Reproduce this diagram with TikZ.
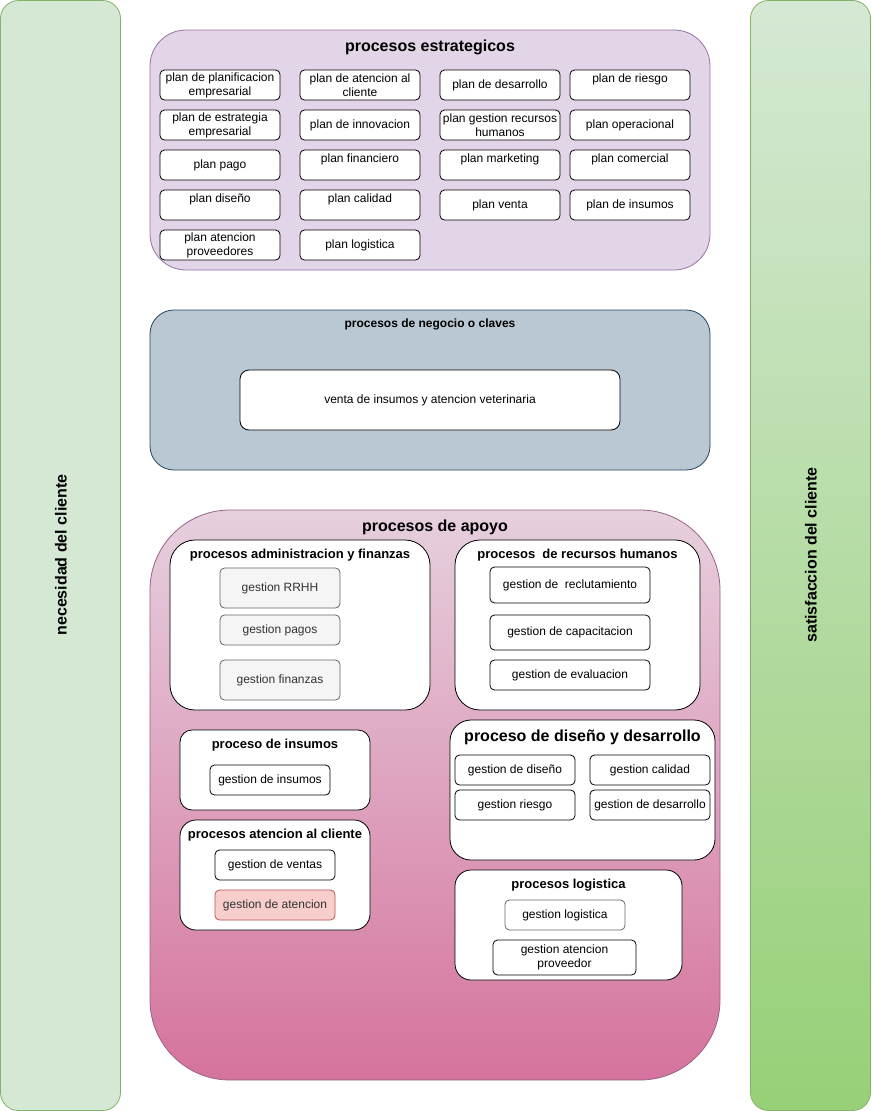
\documentclass[tikz,border=0pt]{standalone}
\usepackage{fontspec}
\setmainfont{Liberation Sans}
\definecolor{verdeFill}{HTML}{D5E8D4}
\definecolor{verdeFin}{HTML}{97D077}
\definecolor{verdeLinea}{HTML}{82B366}
\definecolor{lilaFill}{HTML}{E1D5E7}
\definecolor{lilaLinea}{HTML}{9673A6}
\definecolor{grisAzul}{HTML}{BAC8D3}
\definecolor{grisAzulLinea}{HTML}{23445D}
\definecolor{rosaIni}{HTML}{E6D0DE}
\definecolor{rosaFin}{HTML}{D5739D}
\definecolor{rosaLinea}{HTML}{996185}
\definecolor{grisFill}{HTML}{F5F5F5}
\definecolor{grisLinea}{HTML}{666666}
\definecolor{grisTexto}{HTML}{333333}
\definecolor{rojoFill}{HTML}{F8CECC}
\definecolor{rojoLinea}{HTML}{B85450}

\begin{document}
\begin{tikzpicture}[x=1pt, y=-1pt, line width=0.8pt,
    caja/.style={draw, fill=white, rounded corners=4.5pt, align=center, inner sep=2pt,
      font=\fontsize{12}{14}\selectfont},
    plan/.style={caja, minimum width=120pt, minimum height=30pt},
    arriba/.style={text depth=14pt},
    gris/.style={caja, draw=grisLinea, fill=grisFill, text=grisTexto, minimum width=120pt},
    grupo/.style={draw, fill=white, rounded corners=#1},
    titulo/.style={font=\bfseries\fontsize{13}{15}\selectfont},
    tituloGrande/.style={font=\bfseries\fontsize{16}{18}\selectfont}]
  \useasboundingbox (0,0) rectangle (871,1111);

  % columnas del cliente
  \draw [draw=verdeLinea, fill=verdeFill, rounded corners=18pt] (0.5,0.5) rectangle (120.5,1110.5);
  \draw [draw=verdeLinea, top color=verdeFill, bottom color=verdeFin, rounded corners=18pt] (750.5,0.5) rectangle (870.5,1110.5);
  \node [tituloGrande, rotate=90] (lNecesidad) at (61,555) {necesidad del cliente};
  \node [tituloGrande, rotate=90] (lSatisfaccion) at (811,555) {satisfaccion del cliente};

  % procesos estrategicos
  \draw [draw=lilaLinea, fill=lilaFill, rounded corners=36pt] (150,30) rectangle (710,270);
  \node [tituloGrande] (tEstrategicos) at (430,47.5) {procesos estrategicos};

  \node [plan] (pPlanif) at (220,85) {plan de planificacion\\empresarial};
  \node [plan] (pAtencion) at (360,85) {plan de atencion al\\cliente};
  \node [plan] (pDesarrollo) at (500,85) {plan de desarrollo};
  \node [plan, arriba] (pRiesgo) at (630,85) {plan de riesgo};

  \node [plan] (pEstrategia) at (220,125) {plan de estrategia\\empresarial};
  \node [plan] (pInnovacion) at (360,125) {plan de innovacion};
  \node [plan] (pRRHH) at (500,125) {plan gestion recursos\\humanos};
  \node [plan] (pOperacional) at (630,125) {plan operacional};

  \node [plan] (pPago) at (220,165) {plan pago};
  \node [plan, arriba] (pFinanciero) at (360,165) {plan financiero};
  \node [plan, arriba] (pMarketing) at (500,165) {plan marketing};
  \node [plan, arriba] (pComercial) at (630,165) {plan comercial};

  \node [plan, arriba] (pDiseno) at (220,205) {plan diseño};
  \node [plan, arriba] (pCalidad) at (360,205) {plan calidad};
  \node [plan] (pVenta) at (500,205) {plan venta};
  \node [plan] (pInsumos) at (630,205) {plan de insumos};

  \node [plan] (pProveedores) at (220,245) {plan atencion\\proveedores};
  \node [plan] (pLogistica) at (360,245) {plan logistica};

  % procesos de negocio
  \draw [draw=grisAzulLinea, fill=grisAzul, rounded corners=24pt] (150,310) rectangle (710,470);
  \node [font=\bfseries\fontsize{12}{14}\selectfont] (tNegocio) at (430,324) {procesos de negocio o claves};
  \node [caja, rounded corners=9pt, minimum width=380pt, minimum height=60pt] (nVenta) at (430,400) {venta de insumos y atencion veterinaria};

  % procesos de apoyo
  \draw [draw=rosaLinea, top color=rosaIni, bottom color=rosaFin, rounded corners=80pt] (150,510) rectangle (720,1080);
  \node [tituloGrande] (tApoyo) at (435,527.5) {procesos de apoyo};

  \draw [grupo=25pt] (170,540) rectangle (430,710);
  \node [titulo] (tAdmin) at (300,555) {procesos administracion y finanzas};
  \node [gris, minimum height=40pt] (gRRHH) at (280,588) {gestion RRHH};
  \node [gris, minimum height=30pt] (gPagos) at (280,630) {gestion pagos};
  \node [gris, minimum height=40pt] (gFinanzas) at (280,680) {gestion finanzas};

  \draw [grupo=25pt] (455,540) rectangle (700,710);
  \node [titulo] (tHumanos) at (577.5,555) {procesos\ \ de recursos humanos};
  \node [caja, minimum width=160pt, minimum height=36pt] (gReclut) at (570,585) {gestion de\ \ reclutamiento};
  \node [caja, minimum width=160pt, minimum height=35pt] (gCapac) at (570,632.5) {gestion de capacitacion};
  \node [caja, minimum width=160pt, minimum height=30pt] (gEval) at (570,675) {gestion de evaluacion};

  \draw [grupo=12pt] (180,730) rectangle (370,810);
  \node [titulo] (tInsumos) at (275,745) {proceso de insumos};
  \node [plan] (gInsumos) at (270,780) {gestion de insumos};

  \draw [grupo=16pt] (180,820) rectangle (370,930);
  \node [titulo] (tCliente) at (275,835) {procesos atencion al cliente};
  \node [plan] (gVentas) at (275,865) {gestion de ventas};
  \node [plan, draw=rojoLinea, fill=rojoFill, text=grisTexto] (gAtencion) at (275,905) {gestion de atencion};

  \draw [grupo=21pt] (450,720) rectangle (715,860);
  \node [tituloGrande] (tDiseno) at (582.5,737.5) {proceso de diseño y desarrollo};
  \node [plan] (gDiseno) at (515,770) {gestion de diseño};
  \node [plan] (gCalidad) at (650,770) {gestion calidad};
  \node [plan] (gRiesgo) at (515,805) {gestion riesgo};
  \node [plan] (gDesarrollo) at (650,805) {gestion de desarrollo};

  \draw [grupo=16pt] (455,870) rectangle (682,980);
  \node [titulo] (tLogistica) at (568.5,885) {procesos logistica};
  \node [plan, draw=grisLinea] (gLogistica) at (565,915) {gestion logistica};
  \node [caja, minimum width=143pt, minimum height=35pt] (gProveedor) at (564.5,957.5) {gestion atencion\\proveedor};

\end{tikzpicture}
\end{document}
